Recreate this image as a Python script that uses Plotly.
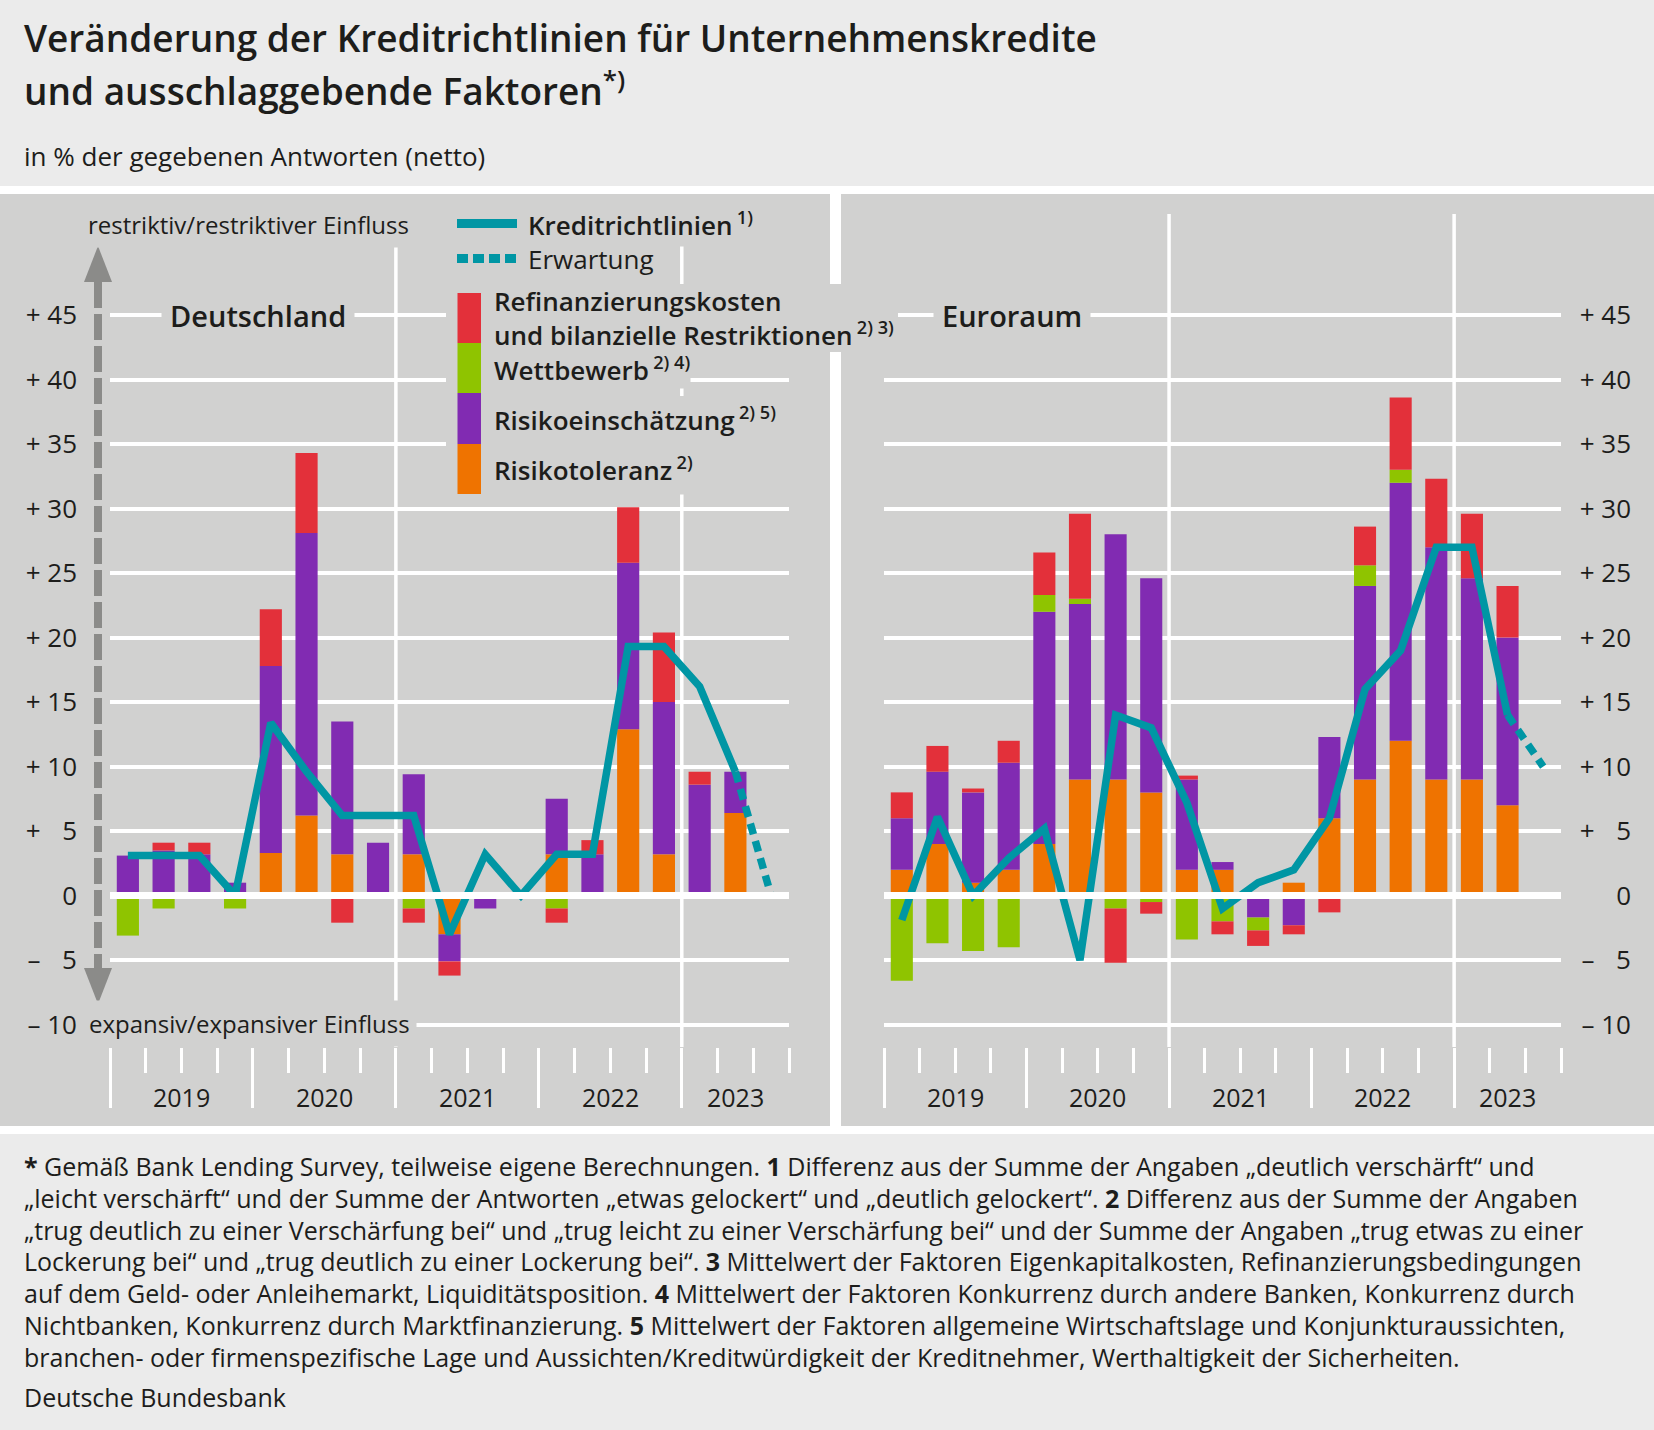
import plotly.graph_objects as go

W, H = 1654, 1430

# ---------------- data ----------------
quarters = ["2019 Q1", "2019 Q2", "2019 Q3", "2019 Q4",
            "2020 Q1", "2020 Q2", "2020 Q3", "2020 Q4",
            "2021 Q1", "2021 Q2", "2021 Q3", "2021 Q4",
            "2022 Q1", "2022 Q2", "2022 Q3", "2022 Q4",
            "2023 Q1", "2023 Q2", "2023 Q3"]
years = ["2019", "2020", "2021", "2022", "2023"]
marked_years = ["2021", "2023"]

y_tickvals = [-10, -5, 0, 5, 10, 15, 20, 25, 30, 35, 40, 45]
y_ticktext = ["\u2013\u00a010", "\u2013\u00a0\u20075", "0", "+\u00a0\u20075", "+\u00a010", "+\u00a015",
              "+\u00a020", "+\u00a025", "+\u00a030", "+\u00a035", "+\u00a040", "+\u00a045"]

# Deutschland
de_risikotoleranz = [0, 0, 0, 0, 3.3, 6.2, 3.2, 0, 3.2, -3.0, 0, 0, 3.2, 0, 12.9, 3.2, 0, 6.4]
de_risikoeinschaetzung = [3.1, 3.5, 3.2, 1.0, 14.5, 21.9, 10.3, 4.1, 6.2, -2.1, -1.0, 0, 4.3, 3.2, 12.9, 11.8, 8.6, 3.2]
de_wettbewerb = [-3.1, -1.0, 0, -1.0, 0, 0, 0, 0, -1.0, 0, 0, 0, -1.0, 0, 0, 0, 0, 0]
de_refinanzierung = [0, 0.6, 0.9, 0, 4.4, 6.2, -2.1, 0, -1.1, -1.1, 0, 0, -1.1, 1.1, 4.3, 5.4, 1.0, 0]
de_kreditrichtlinien = [3.1, 3.1, 3.1, 0, 13.4, 9.6, 6.2, 6.2, 6.2, -3.0, 3.2, 0, 3.2, 3.2, 19.3, 19.3, 16.2, 9.6]
de_erwartung = 0

# Euroraum
ea_risikotoleranz = [2.0, 4.0, 1.0, 2.0, 4.0, 9.0, 9.0, 8.0, 2.0, 2.0, 0, 1.0, 6.0, 9.0, 12.0, 9.0, 9.0, 7.0]
ea_risikoeinschaetzung = [4.0, 5.6, 7.0, 8.3, 18.0, 13.6, 19.0, 16.6, 7.0, 0.6, -1.7, -2.3, 6.3, 15.0, 20.0, 18.0, 15.6, 13.0]
ea_wettbewerb = [-6.6, -3.7, -4.3, -4.0, 1.3, 0.4, -1.0, -0.5, -3.4, -2.0, -1.0, 0, 0, 1.6, 1.0, 0, 0, 0]
ea_refinanzierung = [2.0, 2.0, 0.3, 1.7, 3.3, 6.6, -4.2, -0.9, 0.3, -1.0, -1.2, -0.7, -1.3, 3.0, 5.6, 5.3, 5.0, 4.0]
ea_kreditrichtlinien = [-1.9, 6.1, 0, 2.9, 5.2, -5.0, 14.0, 13.0, 7.2, -1.0, 1.0, 2.0, 6.0, 16.0, 19.0, 27.0, 27.0, 14.0]
ea_erwartung = 10

# ---------------- style ----------------
FONT = "Open Sans, Noto Sans, DejaVu Sans, sans-serif"
TEXT = "#1d1d1b"
LIGHT = "#ebebeb"
PANEL = "#d1d1d0"
TEAL = "#0096a4"
C_RED = "#e3303a"
C_GREEN = "#8fc400"
C_PURPLE = "#812bb2"
C_ORANGE = "#ef7300"
ARROW = "#8b8b89"


def px(x):
    return x / W


def py(y):
    return 1 - y / H


# vertical scale: 0 at 895.6 px, 12.9 px per unit
ZERO_PX, PX_PER_UNIT = 895.6, 12.902
PLOT_TOP, PLOT_BOTTOM = 214, 1047
y_range = [(ZERO_PX - PLOT_BOTTOM) / PX_PER_UNIT, (ZERO_PX - PLOT_TOP) / PX_PER_UNIT]

fig = go.Figure()

panels = [
    ("x", "y", de_risikotoleranz, de_risikoeinschaetzung, de_wettbewerb, de_refinanzierung,
     de_kreditrichtlinien, de_erwartung),
    ("x2", "y2", ea_risikotoleranz, ea_risikoeinschaetzung, ea_wettbewerb, ea_refinanzierung,
     ea_kreditrichtlinien, ea_erwartung),
]

for xa, ya, tol, ein, wet, ref, line, erw in panels:
    n = len(line)
    xs = list(range(n))
    for vals, col, name in [(tol, C_ORANGE, "Risikotoleranz"),
                            (ein, C_PURPLE, "Risikoeinschätzung"),
                            (wet, C_GREEN, "Wettbewerb"),
                            (ref, C_RED, "Refinanzierungskosten und bilanzielle Restriktionen")]:
        fig.add_trace(go.Bar(x=xs, y=vals, name=name, marker=dict(color=col, line=dict(width=0)),
                             width=0.62, xaxis=xa, yaxis=ya, showlegend=False))
    fig.add_trace(go.Scatter(x=xs, y=line, mode="lines", name="Kreditrichtlinien",
                             line=dict(color=TEAL, width=7.5), xaxis=xa, yaxis=ya, showlegend=False))
    fig.add_trace(go.Scatter(x=[n - 1, n], y=[line[-1], erw], mode="lines", name="Erwartung",
                             line=dict(color=TEAL, width=7.5, dash="11px,7px"), xaxis=xa, yaxis=ya,
                             showlegend=False))

year_bounds = [i - 0.5 for i, q in enumerate(quarters) if q.endswith("Q1")]
xcommon = dict(range=[-0.5, len(quarters) - 0.5], showgrid=False, zeroline=False, showline=False,
               tickmode="array", tickvals=year_bounds, ticks="outside", ticklen=60, tickwidth=3,
               tickcolor="white", showticklabels=False,
               minor=dict(tickmode="linear", tick0=-0.5, dtick=1, ticks="outside", ticklen=25,
                          tickwidth=3, tickcolor="white", showgrid=False))
ycommon = dict(range=y_range, domain=[py(PLOT_BOTTOM), py(PLOT_TOP)], tickmode="array",
               tickvals=y_tickvals, ticktext=y_ticktext, showgrid=True, gridcolor="white", gridwidth=4,
               zeroline=True, zerolinecolor="white", zerolinewidth=7, showline=False, ticks="",
               anchor="free", side="left", tickfont=dict(size=26, color=TEXT, family=FONT))

fig.update_layout(
    width=W, height=H, margin=dict(l=0, r=0, t=0, b=0, autoexpand=False),
    paper_bgcolor=LIGHT, plot_bgcolor="rgba(0,0,0,0)", barmode="relative", showlegend=False,
    font=dict(family=FONT, color=TEXT, size=25),
    xaxis=dict(domain=[px(110), px(789)], anchor="y", **xcommon),
    xaxis2=dict(domain=[px(884), px(1561)], anchor="y2", **xcommon),
    yaxis=dict(position=px(77), **ycommon),
    yaxis2=dict(position=px(1631), **ycommon),
)

zl_ok = True
try:
    fig.update_yaxes(zerolinelayer="above traces")
except Exception:
    zl_ok = False

shapes = []
# backgrounds
shapes.append(dict(type="rect", xref="paper", yref="paper", x0=0, x1=1, y0=py(1134), y1=py(186),
                   fillcolor="white", line=dict(width=0), layer="below"))
shapes.append(dict(type="rect", xref="paper", yref="paper", x0=0, x1=px(830), y0=py(1126), y1=py(194),
                   fillcolor=PANEL, line=dict(width=0), layer="below"))
shapes.append(dict(type="rect", xref="paper", yref="paper", x0=px(841), x1=1, y0=py(1126), y1=py(194),
                   fillcolor=PANEL, line=dict(width=0), layer="below"))
# vertical marker lines at selected year boundaries
for xa in ["x", "x2"]:
    for yr in marked_years:
        b = quarters.index(yr + " Q1") - 0.5
        shapes.append(dict(type="line", xref=xa, yref="paper", x0=b, x1=b, y0=py(PLOT_BOTTOM), y1=py(PLOT_TOP),
                           line=dict(color="white", width=3.5), layer="below"))
if not zl_ok:
    for xa, ya in [("x", "y"), ("x2", "y2")]:
        shapes.append(dict(type="line", xref=xa + " domain", yref=ya, x0=0, x1=1, y0=0, y1=0,
                           line=dict(color="white", width=7), layer="above"))
# arrow
shapes.append(dict(type="line", xref="paper", yref="paper", x0=px(98), x1=px(98), y0=py(282), y1=py(968),
                   line=dict(color=ARROW, width=8, dash="26px,6px"), layer="above"))
shapes.append(dict(type="path", xref="paper", yref="paper",
                   path=f"M {px(84)},{py(282)} L {px(112)},{py(282)} L {px(98)},{py(246)} Z",
                   fillcolor=ARROW, line=dict(width=0), layer="above"))
shapes.append(dict(type="path", xref="paper", yref="paper",
                   path=f"M {px(84)},{py(968)} L {px(112)},{py(968)} L {px(98)},{py(1004)} Z",
                   fillcolor=ARROW, line=dict(width=0), layer="above"))
# legend backgrounds (cover grid lines behind legend)
for (x0, x1, y0, y1) in [(446, 494, 205, 500), (490, 898, 284, 352), (490, 790, 396, 447)]:
    shapes.append(dict(type="rect", xref="paper", yref="paper", x0=px(x0), x1=px(x1), y0=py(y1), y1=py(y0),
                       fillcolor=PANEL, line=dict(width=0), layer="above"))
# legend symbols
shapes.append(dict(type="line", xref="paper", yref="paper", x0=px(457), x1=px(517), y0=py(223.5), y1=py(223.5),
                   line=dict(color=TEAL, width=9), layer="above"))
shapes.append(dict(type="line", xref="paper", yref="paper", x0=px(457), x1=px(519), y0=py(258.5), y1=py(258.5),
                   line=dict(color=TEAL, width=9, dash="11px,5px"), layer="above"))
for (y0, y1), col in zip([(293, 343), (343, 393), (393, 444), (444, 494)], [C_RED, C_GREEN, C_PURPLE, C_ORANGE]):
    shapes.append(dict(type="rect", xref="paper", yref="paper", x0=px(457.5), x1=px(481), y0=py(y1), y1=py(y0),
                       fillcolor=col, line=dict(width=0), layer="above"))
fig.update_layout(shapes=shapes)

ann = []


def label(text, x, y, size=25, weight=400, bg=None, anchor="left", pad=2):
    d = dict(text=text, x=px(x), y=py(y), xref="paper", yref="paper", xanchor=anchor, yanchor="middle",
             align="left", showarrow=False, font=dict(family=FONT, size=size, color=TEXT, weight=weight),
             borderpad=pad)
    if bg:
        d["bgcolor"] = bg
    ann.append(d)


# titles
label("Veränderung der Kreditrichtlinien für Unternehmenskredite", 21, 38, size=37, weight=600)
label("und ausschlaggebende Faktoren<sup>*)</sup>", 21, 88, size=37, weight=600)
label("in % der gegebenen Antworten (netto)", 21, 156, size=26)
# panel labels
label("Deutschland", 161, 315, size=29, weight=600, bg=PANEL, pad=8)
label("Euroraum", 933, 315, size=29, weight=600, bg=PANEL, pad=8)
label("restriktiv/restriktiver Einfluss", 81, 224, size=24, bg=PANEL, pad=6)
label("expansiv/expansiver Einfluss", 82, 1023, size=24, bg=PANEL, pad=6)
# legend texts
label("Kreditrichtlinien\u2009<sup>1)</sup>", 524, 223.5, size=26, weight=600, bg=PANEL, pad=3)
label("Erwartung", 524, 258.5, size=26, bg=PANEL, pad=3)
label("Refinanzierungskosten<br>und bilanzielle Restriktionen\u2009<sup>2) 3)</sup>", 493, 318.5,
      size=26, weight=600, pad=0)
label("Wettbewerb\u2009<sup>2) 4)</sup>", 493, 369, size=26, weight=600, bg=PANEL, pad=0)
label("Risikoeinschätzung\u2009<sup>2) 5)</sup>", 493, 419, size=26, weight=600, pad=0)
label("Risikotoleranz\u2009<sup>2)</sup>", 487, 469, size=26, weight=600, bg=PANEL, pad=6)

# year labels from the quarter list
for xa in ["x", "x2"]:
    for yr in years:
        idx = [i for i, q in enumerate(quarters) if q.startswith(yr)]
        ann.append(dict(text=yr, x=sum(idx) / len(idx), y=py(1097), xref=xa, yref="paper", xanchor="center",
                        yanchor="middle", showarrow=False, font=dict(family=FONT, size=25, color=TEXT)))

footnotes = [
    "<b>*</b> Gemäß Bank Lending Survey, teilweise eigene Berechnungen. <b>1</b> Differenz aus der Summe der Angaben „deutlich verschärft“ und",
    "„leicht verschärft“ und der Summe der Antworten „etwas gelockert“ und „deutlich gelockert“. <b>2</b> Differenz aus der Summe der Angaben",
    "„trug deutlich zu einer Verschärfung bei“ und „trug leicht zu einer Verschärfung bei“ und der Summe der Angaben „trug etwas zu einer",
    "Lockerung bei“ und „trug deutlich zu einer Lockerung bei“. <b>3</b> Mittelwert der Faktoren Eigenkapitalkosten, Refinanzierungsbedingungen",
    "auf dem Geld- oder Anleihemarkt, Liquiditätsposition. <b>4</b> Mittelwert der Faktoren Konkurrenz durch andere Banken, Konkurrenz durch",
    "Nichtbanken, Konkurrenz durch Marktfinanzierung. <b>5</b> Mittelwert der Faktoren allgemeine Wirtschaftslage und Konjunkturaussichten,",
    "branchen- oder firmenspezifische Lage und Aussichten/Kreditwürdigkeit der Kreditnehmer, Werthaltigkeit der Sicherheiten.",
]
for i, t in enumerate(footnotes):
    label(t, 21, 1166 + i * 31.8, size=25)
label("Deutsche Bundesbank", 21, 1397, size=25)

fig.update_layout(annotations=ann)

fig.write_html("out.html", config={"displayModeBar": False},
               post_script="document.body.style.margin='0';document.body.style.overflow='hidden';")
